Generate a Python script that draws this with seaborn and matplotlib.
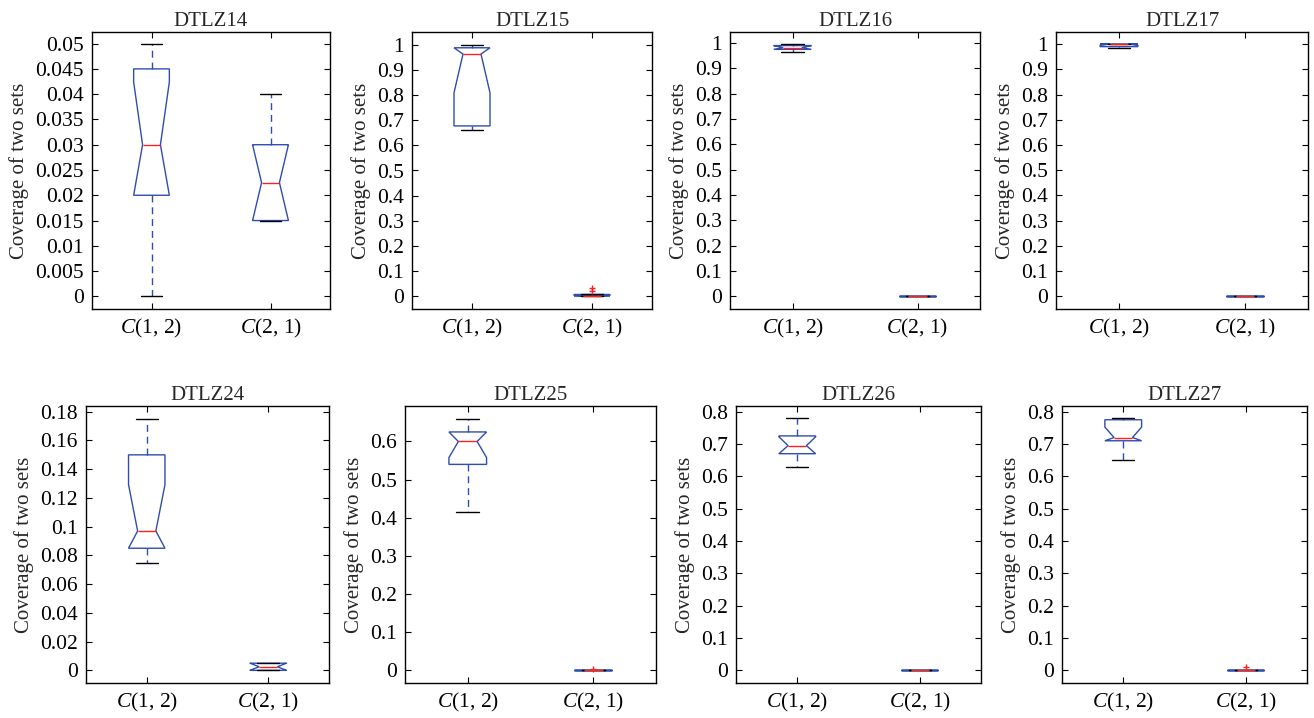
import numpy as np
import pandas as pd
import matplotlib
matplotlib.use("Agg")
import matplotlib.pyplot as plt
import seaborn as sns

# ---------------- data ----------------
categories = ["C(1, 2)", "C(2, 1)"]
tick_labels = [r"$C$(1, 2)", r"$C$(2, 1)"]
titles = ["DTLZ14", "DTLZ15", "DTLZ16", "DTLZ17",
          "DTLZ24", "DTLZ25", "DTLZ26", "DTLZ27"]
ylabel = "Coverage of two sets"

dtlz14_c12 = [0.0, 0.01, 0.02, 0.02, 0.03, 0.03, 0.045, 0.045, 0.05, 0.05]
dtlz14_c21 = [0.015, 0.015, 0.015, 0.015, 0.0225, 0.0225, 0.03, 0.03, 0.035, 0.04]
dtlz15_c12 = [0.66, 0.67, 0.678, 0.678, 0.965, 0.965, 0.99, 0.99, 1.0, 1.0]
dtlz15_c21 = [0.0, 0.0, 0.0, 0.0, 0.0, 0.0, 0.005, 0.005, 0.02, 0.03]
dtlz16_c12 = [0.965, 0.97, 0.975, 0.975, 0.982, 0.982, 0.99, 0.99, 0.993, 0.995]
dtlz16_c21 = [0.0, 0.0, 0.0, 0.0, 0.0, 0.0, 0.0, 0.0, 0.0, 0.0]
dtlz17_c12 = [0.985, 0.988, 0.99, 0.99, 1.0, 1.0, 1.0, 1.0, 1.0, 1.0]
dtlz17_c21 = [0.0, 0.0, 0.0, 0.0, 0.0, 0.0, 0.0, 0.0, 0.0, 0.0]
dtlz24_c12 = [0.075, 0.08, 0.085, 0.085, 0.097, 0.097, 0.15, 0.15, 0.16, 0.175]
dtlz24_c21 = [0.0, 0.0, 0.0, 0.0, 0.0025, 0.0025, 0.005, 0.005, 0.005, 0.005]
dtlz25_c12 = [0.416, 0.5, 0.54, 0.54, 0.6, 0.6, 0.625, 0.625, 0.64, 0.66]
dtlz25_c21 = [0.0, 0.0, 0.0, 0.0, 0.0, 0.0, 0.0, 0.0, 0.0, 0.003]
dtlz26_c12 = [0.63, 0.65, 0.67, 0.67, 0.695, 0.695, 0.725, 0.725, 0.75, 0.78]
dtlz26_c21 = [0.0, 0.0, 0.0, 0.0, 0.0, 0.0, 0.0, 0.0, 0.0, 0.0]
dtlz27_c12 = [0.65, 0.69, 0.71, 0.71, 0.72, 0.72, 0.775, 0.775, 0.778, 0.78]
dtlz27_c21 = [0.0, 0.0, 0.0, 0.0, 0.0, 0.0, 0.0, 0.0, 0.0, 0.01]

series = [
    (dtlz14_c12, dtlz14_c21), (dtlz15_c12, dtlz15_c21),
    (dtlz16_c12, dtlz16_c21), (dtlz17_c12, dtlz17_c21),
    (dtlz24_c12, dtlz24_c21), (dtlz25_c12, dtlz25_c21),
    (dtlz26_c12, dtlz26_c21), (dtlz27_c12, dtlz27_c21),
]

yticks = [
    [0, 0.005, 0.01, 0.015, 0.02, 0.025, 0.03, 0.035, 0.04, 0.045, 0.05],
    [0, 0.1, 0.2, 0.3, 0.4, 0.5, 0.6, 0.7, 0.8, 0.9, 1],
    [0, 0.1, 0.2, 0.3, 0.4, 0.5, 0.6, 0.7, 0.8, 0.9, 1],
    [0, 0.1, 0.2, 0.3, 0.4, 0.5, 0.6, 0.7, 0.8, 0.9, 1],
    [0, 0.02, 0.04, 0.06, 0.08, 0.1, 0.12, 0.14, 0.16, 0.18],
    [0, 0.1, 0.2, 0.3, 0.4, 0.5, 0.6],
    [0, 0.1, 0.2, 0.3, 0.4, 0.5, 0.6, 0.7, 0.8],
    [0, 0.1, 0.2, 0.3, 0.4, 0.5, 0.6, 0.7, 0.8],
]
ylims = [(-0.0025, 0.0523), (-0.053, 1.053), (-0.05, 1.0435), (-0.05, 1.048),
         (-0.0088, 0.184), (-0.033, 0.693), (-0.039, 0.8175), (-0.039, 0.8175)]

# axes rectangles in pixels (left, top, right, bottom)
W, H = 1314, 718
px_boxes = [(92, 32, 330, 309), (412, 32, 652, 309), (730, 32, 980, 309), (1056, 32, 1308, 309),
            (86, 406, 329, 683), (405, 406, 656, 683), (736, 406, 981, 683), (1062, 406, 1307, 683)]

# ---------------- style ----------------
sns.set_theme(style="white")
plt.rcParams["font.family"] = ["Liberation Serif", "DejaVu Serif"]
plt.rcParams["mathtext.fontset"] = "custom"
plt.rcParams["mathtext.rm"] = "Liberation Serif"
plt.rcParams["mathtext.it"] = "Liberation Serif:italic"

BLUE = "#2E4DAE"
RED = "#FF2020"
TICK_FS = 15.5
LABEL_FS = 15

fig = plt.figure(figsize=(W / 100, H / 100), dpi=100)
fig.patch.set_facecolor("white")

for i, (title, (s1, s2)) in enumerate(zip(titles, series)):
    x0, y0, x1, y1 = px_boxes[i]
    ax = fig.add_axes([x0 / W, 1 - y1 / H, (x1 - x0) / W, (y1 - y0) / H])
    df = pd.DataFrame({
        "set": [categories[0]] * len(s1) + [categories[1]] * len(s2),
        "value": list(s1) + list(s2),
    })
    sns.boxplot(data=df, x="set", y="value", order=categories, ax=ax,
                notch=True, width=0.3, whis=1.5, fill=True, color="white",
                linecolor=BLUE, linewidth=1.0, capwidths=0.18,
                boxprops=dict(facecolor="white", edgecolor=BLUE, linewidth=1.0),
                whiskerprops=dict(color=BLUE, linestyle=(0, (5, 3.5)), linewidth=1.0),
                capprops=dict(color="black", linewidth=1.0),
                medianprops=dict(color=RED, linewidth=1.0),
                flierprops=dict(marker="+", markeredgecolor=RED, markerfacecolor=RED,
                                markersize=5, markeredgewidth=1.0, linestyle="none"))
    # MATLAB-style notch: keep notch inside the box (clip to quartiles)
    for p in ax.patches:
        v = p.get_path().vertices
        if len(v) >= 11:
            q1, q3 = v[0, 1], v[5, 1]
            lo, hi = min(q1, q3), max(q1, q3)
            v[:, 1] = np.clip(v[:, 1], lo, hi)
    ax.set_xlim(-0.5, 1.5)
    ax.set_ylim(*ylims[i])
    ax.set_yticks(yticks[i])
    ax.set_yticklabels(["{:g}".format(t) for t in yticks[i]])
    ax.set_xticks([0, 1])
    ax.set_xticklabels(tick_labels)
    ax.set_xlabel("")
    ax.set_ylabel(ylabel, fontsize=LABEL_FS, labelpad=4)
    ax.set_title(title, fontsize=LABEL_FS, pad=4)
    ax.tick_params(axis="both", direction="in", length=4, width=0.8, colors="black",
                   labelsize=TICK_FS, top=True, right=True, bottom=True, left=True, pad=6)
    for sp in ax.spines.values():
        sp.set_visible(True)
        sp.set_color("black")
        sp.set_linewidth(1.0)
    ax.grid(False)

fig.savefig("out.png", dpi=100, facecolor="white")
